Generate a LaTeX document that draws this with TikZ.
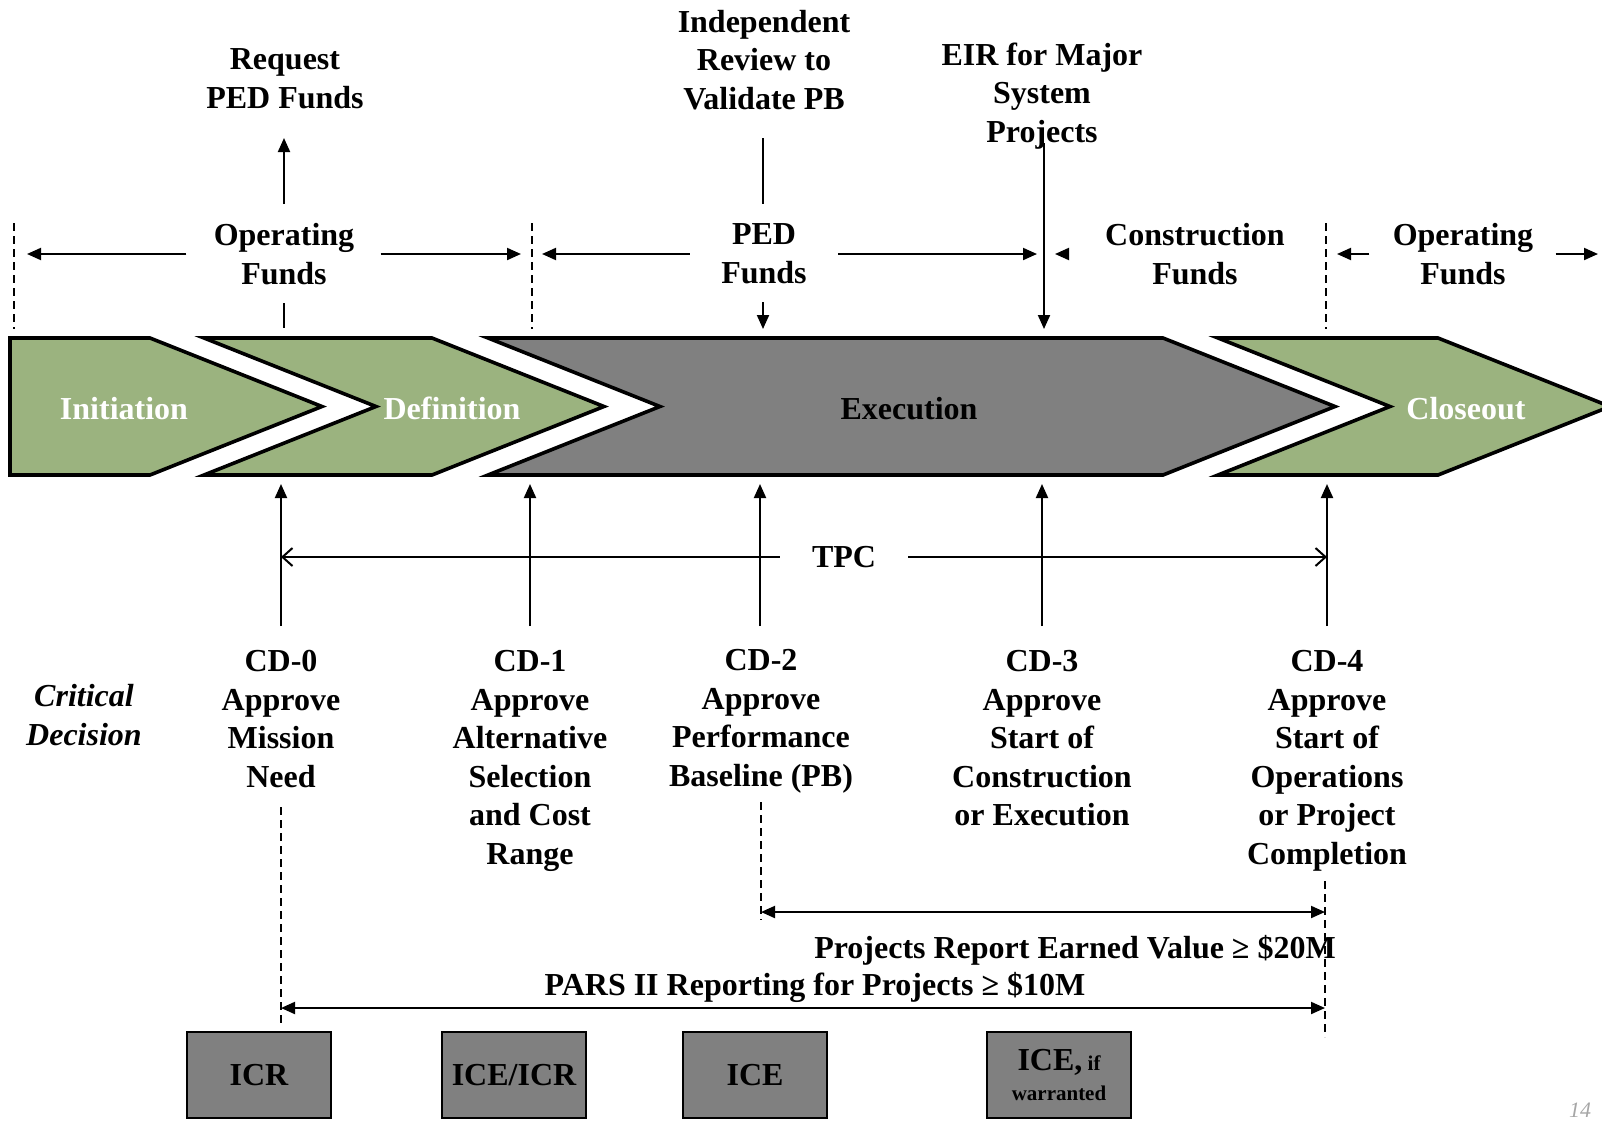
\documentclass[tikz,border=0pt]{standalone}
\usepackage{fontspec}
\setmainfont{Liberation Serif}
\usepackage{xcolor}
\usetikzlibrary{arrows.meta}
\usetikzlibrary{math}
\definecolor{mygreen}{RGB}{155,179,127}
\definecolor{mygray}{RGB}{128,128,128}

\tikzset{
  lbl/.style={font=\fontsize{16}{19.3}\selectfont\bfseries, align=center, inner sep=0pt},
  fundarrow/.style={-{Triangle[length=7pt,width=6pt]}, line width=1pt},
  tpcarrow/.style={-{Straight Barb[length=5pt,width=9pt]}, line width=1pt},
  reparrow/.style={{Triangle[length=7pt,width=6pt]}-{Triangle[length=7pt,width=6pt]}, line width=1pt},
  divider/.style={dash pattern=on 4pt off 2.5pt, line width=0.6pt},
  phase/.style={draw=black, line width=1.8pt, line join=miter},
  costbox/.style={lbl, draw=black, fill=mygray, line width=1pt, minimum width=72pt, minimum height=43pt}
}

\begin{document}
\begin{tikzpicture}[x=0.5pt,y=-0.5pt]
\tikzmath{
\yt=338;
\yb=475;
\ym=406.5;
\tipw=172;
\yfund=254;
\ycd=626;
\ytip=484;
}
\useasboundingbox (0,0) rectangle (1602,1120);

%%%%%%%%%%   phases
\filldraw[phase, fill=mygreen] (10,\yt) -- (150,\yt) -- (150+\tipw,\ym) -- (150,\yb) -- (10,\yb) -- cycle;
\filldraw[phase, fill=mygreen] (204,\yt) -- (432,\yt) -- (432+\tipw,\ym) -- (432,\yb) -- (204,\yb) -- (204+\tipw,\ym) -- cycle;
\filldraw[phase, fill=mygray] (488,\yt) -- (1163,\yt) -- (1163+\tipw,\ym) -- (1163,\yb) -- (488,\yb) -- (488+\tipw,\ym) -- cycle;
\filldraw[phase, fill=mygreen] (1218,\yt) -- (1438,\yt) -- (1438+\tipw,\ym) -- (1438,\yb) -- (1218,\yb) -- (1218+\tipw,\ym) -- cycle;

\node[lbl, text=white] (init) at (124,409) {Initiation};
\node[lbl, text=white] (defn) at (452,408) {Definition};
\node[lbl] (exec) at (909,409) {Execution};
\node[lbl, text=white] (close) at (1466,409) {Closeout};

%%%%%%%%%%   funds
\node[lbl] (opfund1) at (284,\yfund) {Operating\\Funds};
\node[lbl] (pedfund) at (764,\yfund) {PED\\Funds};
\node[lbl] (confund) at (1195,\yfund) {Construction\\Funds};
\node[lbl] (opfund2) at (1463,\yfund) {Operating\\Funds};

\coordinate (div0) at (14,\yfund);
\coordinate (div1) at (532,\yfund);
\coordinate (div2) at (1326,\yfund);
\coordinate (eirx) at (1044,\yfund);
\coordinate (edge) at (1602,\yfund);

\draw[divider] (14,223) -- (14,329);
\draw[divider] (532,223) -- (532,329);
\draw[divider] (1326,223) -- (1326,329);

\draw[fundarrow] ([xshift=-13.5pt]opfund1.west) -- ([xshift=6.5pt]div0);
\draw[fundarrow] ([xshift=13pt]opfund1.east) -- ([xshift=-5.5pt]div1);
\draw[fundarrow] ([xshift=-15.5pt]pedfund.west) -- ([xshift=5pt]div1);
\draw[fundarrow] ([xshift=15.5pt]pedfund.east) -- ([xshift=-3.5pt]eirx);
\draw[fundarrow] ([xshift=-20pt]confund.west) -- ([xshift=5.5pt]eirx);
\draw[fundarrow] ([xshift=-11.5pt]opfund2.west) -- ([xshift=5.5pt]div2);
\draw[fundarrow] ([xshift=11pt]opfund2.east) -- ([xshift=-2pt]edge);

%%%%%%%%%%   reviews
\node[lbl] (request) at (285,79) {Request\\PED Funds};
\node[lbl] (review) at (764,60) {Independent\\Review to\\Validate PB};
\node[lbl] (eir) at (1042,96) {EIR for Major\\System\\Projects};

\coordinate (req1) at (284,204);
\coordinate (req2) at (284,138);
\coordinate (req3) at (284,303);
\coordinate (req4) at (284,328);
\draw[fundarrow] (req1) -- (req2);
\draw[line width=1pt] (req3) -- (req4);

\coordinate (rev1) at (763,138);
\coordinate (rev2) at (763,204);
\coordinate (rev3) at (763,302);
\coordinate (rev4) at (763,329);
\draw[line width=1pt] (rev1) -- (rev2);
\draw[fundarrow] (rev3) -- (rev4);

\coordinate (eir1) at (1044,143);
\coordinate (eir2) at (1044,329);
\draw[fundarrow] (eir1) -- (eir2);

%%%%%%%%%%   critical decisions
\foreach \x/\nm in {281/cd0, 530/cd1, 760/cd2, 1042/cd3, 1327/cd4}{
  \coordinate (\nm base) at (\x,\ycd);
  \coordinate (\nm top) at (\x,\ytip);
  \draw[fundarrow] (\nm base) -- (\nm top);
}

\node[lbl] (tpc) at (844,557) {TPC};
\draw[tpcarrow] ([xshift=-16pt]tpc.west) -- (cd0base |- tpc.west);
\draw[tpcarrow] ([xshift=16pt]tpc.east) -- (cd4base |- tpc.east);

\node[lbl, font=\fontsize{16}{19.3}\selectfont\bfseries\itshape] (crit) at (84,715) {Critical\\Decision};
\node[lbl, anchor=north] (cd0) at (281,650) {CD-0\\Approve\\Mission\\Need};
\node[lbl, anchor=north] (cd1) at (530,650) {CD-1\\Approve\\Alternative\\Selection\\and Cost\\Range};
\node[lbl, anchor=north] (cd2) at (761,649) {CD-2\\Approve\\Performance\\Baseline (PB)};
\node[lbl, anchor=north] (cd3) at (1042,650) {CD-3\\Approve\\Start of\\Construction\\or Execution};
\node[lbl, anchor=north] (cd4) at (1327,650) {CD-4\\Approve\\Start of\\Operations\\or Project\\Completion};

%%%%%%%%%%   reporting
\draw[divider] (281,807) -- (281,1025);
\draw[divider] (761,802) -- (761,920);
\draw[divider] (1325,881) -- (1325,1037);

\coordinate (ev1) at (761,912);
\coordinate (ev2) at (1325,912);
\coordinate (pars1) at (281,1008);
\coordinate (pars2) at (1325,1008);
\draw[reparrow] (ev1) -- (ev2);
\draw[reparrow] (pars1) -- (pars2);
\node[lbl] (ev) at (1075,950) {Projects Report Earned Value ≥ \$20M};
\node[lbl] (pars) at (815,987) {PARS II Reporting for Projects ≥ \$10M};

%%%%%%%%%%   estimates
\node[costbox] (icr) at (259,1075) {ICR};
\node[costbox] (iceicr) at (514,1075) {ICE/ICR};
\node[costbox] (ice) at (755,1075) {ICE};
\node[costbox] (icewar) at (1059,1075) {ICE,{\fontsize{10.5}{12}\selectfont\ if}\\[-4pt]{\fontsize{10.5}{12}\selectfont warranted}};

\node[font=\fontsize{11}{12}\selectfont\itshape, text=gray!70, anchor=south, inner sep=0pt] (pgnum) at (1580,1118) {14};

\end{tikzpicture}
\end{document}
